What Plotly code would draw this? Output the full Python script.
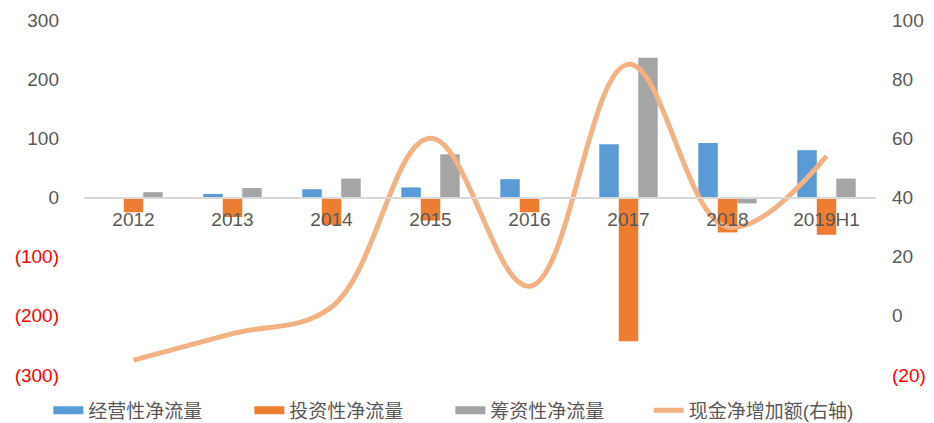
import plotly.graph_objects as go

categories = ["2012", "2013", "2014", "2015", "2016", "2017", "2018", "2019H1"]
operating = [0, 6, 14, 17, 31, 90, 92, 80]
investing = [-25, -33, -46, -39, -25, -243, -59, -63]
financing = [9, 16, 32, 73, 0, 236, -10, 32]
cash_increase = [-15, -6, 3, 60, 10, 85, 30, 54]

left_ticks = [-300, -200, -100, 0, 100, 200, 300]
left_text = ["(300)", "(200)", "(100)", "0", "100", "200", "300"]
right_ticks = [-20, 0, 20, 40, 60, 80, 100]
right_text = ["(20)", "0", "20", "40", "60", "80", "100"]

names = ["经营性净流量", "投资性净流量", "筹资性净流量", "现金净增加额(右轴)"]
colors = ["#5B9BD5", "#ED7D31", "#A5A5A5", "#F4B183"]
GRAY = "#595959"
RED = "#FF0000"
FONT = "Liberation Sans, Arial, Noto Sans CJK SC, sans-serif"


def colored(labels):
    return [f"<span style='color:{RED}'>{t}</span>" if t.startswith("(") else t for t in labels]


fig = go.Figure()
for vals, name, col in zip([operating, investing, financing], names[:3], colors[:3]):
    fig.add_trace(go.Bar(x=categories, y=vals, name=name, marker_color=col,
                         marker_line_width=0, showlegend=False, yaxis="y"))

# legend markers for bars (thick lines like the original)
for name, col in zip(names[:3], colors[:3]):
    fig.add_trace(go.Scatter(x=[None], y=[None], mode="lines", name=name,
                             line=dict(color=col, width=8), yaxis="y", legend="legend"))

fig.add_trace(go.Scatter(x=categories, y=cash_increase, name=names[3], mode="lines",
                         line=dict(color=colors[3], width=5, shape="spline", smoothing=1.1),
                         yaxis="y2", legend="legend2"))

legend_common = dict(orientation="h", y=-0.1, yanchor="middle", xanchor="left",
                     font=dict(size=19, color=GRAY), bgcolor="rgba(0,0,0,0)")

fig.update_layout(
    width=934, height=423,
    margin=dict(l=84, r=58, t=20, b=48, autoexpand=False),
    paper_bgcolor="white", plot_bgcolor="white",
    font=dict(family=FONT, color=GRAY, size=19),
    barmode="group", bargap=0.41, bargroupgap=0,
    xaxis=dict(anchor="free", position=0.5, showline=True, linecolor="#D9D9D9", linewidth=1.5,
               ticks="", tickfont=dict(size=19, color=GRAY), showgrid=False, zeroline=False,
               ticklabelstandoff=5),
    yaxis=dict(range=[-300, 300], tickvals=left_ticks, ticktext=colored(left_text),
               showgrid=False, zeroline=False, showline=False, ticks="",
               tickfont=dict(size=19, color=GRAY), ticklabelstandoff=24),
    yaxis2=dict(range=[-20, 100], tickvals=right_ticks, ticktext=colored(right_text),
                overlaying="y", side="right", showgrid=False, zeroline=False, showline=False,
                ticks="", tickfont=dict(size=19, color=GRAY), ticklabelstandoff=15),
    legend=dict(x=-0.045, entrywidth=156, entrywidthmode="pixels", traceorder="normal",
                **legend_common),
    legend2=dict(x=0.713, **legend_common),
)

fig.write_html("out.html")
